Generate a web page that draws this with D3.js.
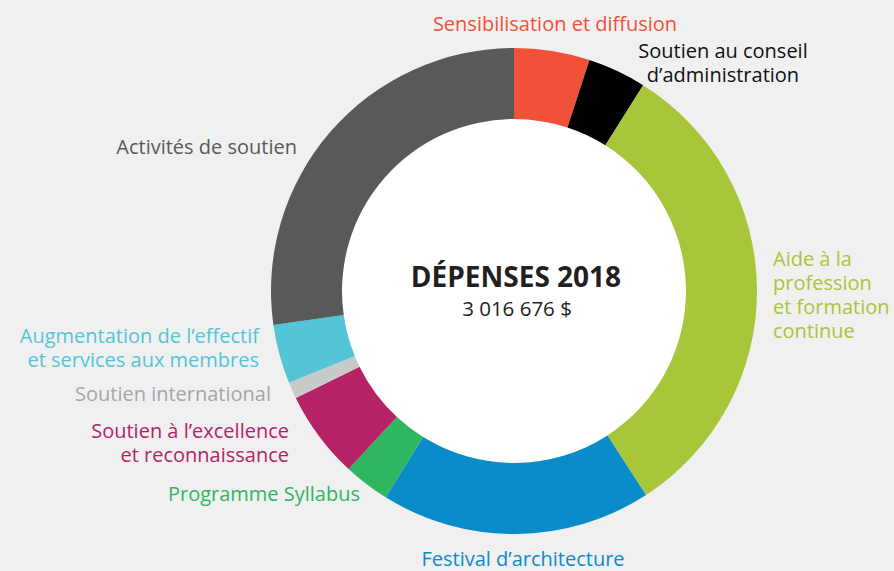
<!DOCTYPE html>
<html><head><meta charset="utf-8">
<script src="https://cdn.jsdelivr.net/npm/d3@7"></script>
<style>
html,body{margin:0;padding:0;background:#f0f0f0;}
svg{display:block;font-family:"Open Sans",sans-serif;}
</style></head>
<body>
<script>
// Data
const categories = [
  "Sensibilisation et diffusion",
  "Soutien au conseil d’administration",
  "Aide à la profession et formation continue",
  "Festival d’architecture",
  "Programme Syllabus",
  "Soutien à l’excellence et reconnaissance",
  "Soutien international",
  "Augmentation de l’effectif et services aux membres",
  "Activités de soutien"
];
const values = [151700, 117300, 963500, 543000, 92300, 176000, 32600, 118800, 821400];
const colors = ["#f05138", "#000000", "#a8c63a", "#0a8ccb", "#2fb661", "#b52366", "#c8c9ca", "#54c5d7", "#58595b"];
const labelColors = ["#f05138", "#111111", "#a8c63a", "#0a8ccb", "#2fb661", "#b52366", "#a4a6a8", "#54c5d7", "#58595b"];
const labelLines = [
  ["Sensibilisation et diffusion"],
  ["Soutien au conseil", "d’administration"],
  ["Aide à la", "profession", "et formation", "continue"],
  ["Festival d’architecture"],
  ["Programme Syllabus"],
  ["Soutien à l’excellence", "et reconnaissance"],
  ["Soutien international"],
  ["Augmentation de l’effectif", "et services aux membres"],
  ["Activités de soutien"]
];
const title = "DÉPENSES 2018";
const total = "3 016 676 $";

// Layout (not data)
const W = 894, H = 571;
const cx = 514, cy = 291, rOuter = 243, rInner = 172;
const labelLayout = [
  {x: 555, y: 31, anchor: "middle"},
  {x: 723, y: 58, anchor: "middle"},
  {x: 773, y: 266, anchor: "start"},
  {x: 523, y: 566, anchor: "middle"},
  {x: 360, y: 501, anchor: "end"},
  {x: 289, y: 438, anchor: "end"},
  {x: 271, y: 401, anchor: "end"},
  {x: 259, y: 343, anchor: "end"},
  {x: 297, y: 154, anchor: "end"}
];
const lineH = 24;

const svg = d3.select("body").append("svg").attr("width", W).attr("height", H);
svg.append("rect").attr("width", W).attr("height", H).attr("fill", "#f0f0f0");

const pie = d3.pie().sort(null).value(d => d);
const arc = d3.arc().innerRadius(rInner).outerRadius(rOuter);
const g = svg.append("g").attr("transform", `translate(${cx},${cy})`);
g.append("circle").attr("r", rInner).attr("fill", "#ffffff");
g.selectAll("path").data(pie(values)).join("path")
  .attr("d", arc)
  .attr("fill", (d, i) => colors[i]);

const lab = svg.append("g").attr("font-size", 20);
labelLines.forEach((lines, i) => {
  const L = labelLayout[i];
  lines.forEach((s, j) => {
    lab.append("text")
      .attr("x", L.x).attr("y", L.y + j * lineH)
      .attr("text-anchor", L.anchor)
      .attr("fill", labelColors[i])
      .text(s);
  });
});

svg.append("text").attr("x", 516).attr("y", 287).attr("text-anchor", "middle")
  .attr("font-size", 28).attr("font-weight", 700).attr("fill", "#231f20").text(title);
svg.append("text").attr("x", 517).attr("y", 316).attr("text-anchor", "middle")
  .attr("font-size", 20.5).attr("fill", "#231f20").text(total);
</script>
</body></html>
